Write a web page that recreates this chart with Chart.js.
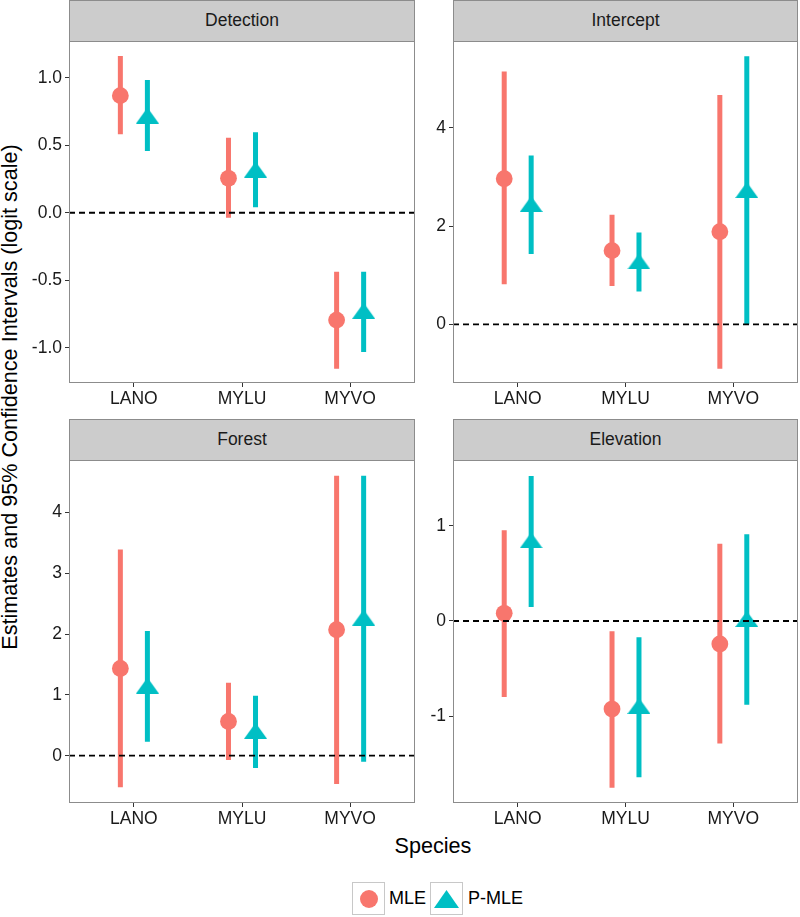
<!DOCTYPE html>
<html>
<head>
<meta charset="utf-8">
<script src="https://cdn.jsdelivr.net/npm/chart.js@4.4.1/dist/chart.umd.min.js"></script>
<style>
    body { margin: 0; background: #fff; font-family: "Liberation Sans", Arial, sans-serif; }
    #wrap { position: relative; width: 800px; height: 917px; overflow: hidden; background: #fff; }
    #wrap canvas { position: absolute; }
    .strip {
        position: absolute; box-sizing: border-box; background: #cccccc;
        border: 1px solid #8c8c8c; color: #1a1a1a; font-size: 17.5px;
        text-align: center; line-height: 39px;
    }
    .title { position: absolute; color: #000; font-size: 21.6px; text-align: center; line-height: 26px; }
    #ytitle { left: -290px; top: 384px; width: 600px; transform: rotate(-90deg); }
    #xtitle { left: 0; top: 833px; width: 866px; }
    .key {
        position: absolute; top: 882px; width: 33px; height: 33px; box-sizing: border-box;
        border: 1px solid #c8c8c8; background: #fff;
    }
    .key .dot { position: absolute; left: 7px; top: 7px; width: 18px; height: 18px; border-radius: 50%; background: #F8766D; }
    .key .tri { position: absolute; left: 3px; top: 7px; width: 25px; height: 18px; background: #00BFC4; clip-path: polygon(50% 0, 100% 100%, 0 100%); }
    .keylabel { position: absolute; top: 887px; font-size: 18px; line-height: 22px; color: #000; }
</style>
</head>
<body>
<div id="wrap">
    <div class="title" id="ytitle">Estimates and 95% Confidence Intervals (logit scale)</div>
    <div class="title" id="xtitle">Species</div>
    <div class="key" style="left:352px"><div class="dot"></div></div>
    <div class="keylabel" style="left:389px">MLE</div>
    <div class="key" style="left:430px"><div class="tri"></div></div>
    <div class="keylabel" style="left:468px">P-MLE</div>
</div>
<script>
const species = ['LANO', 'MYLU', 'MYVO'];
const panelNames = ['Detection', 'Intercept', 'Forest', 'Elevation'];

// one row per panel, one value per species
const mleEst  = [[0.867, 0.255, -0.795], [2.965, 1.50, 1.886], [1.434, 0.563, 2.07], [0.081, -0.926, -0.242]];
const mleLow  = [[0.581, -0.037, -1.156], [0.815, 0.78, -0.904], [-0.52, -0.07, -0.465], [-0.80, -1.753, -1.289]];
const mleHigh = [[1.161, 0.556, -0.437], [5.15, 2.23, 4.67], [3.39, 1.20, 4.60], [0.953, -0.108, 0.812]];

const pmleEst  = [[0.72, 0.32, -0.726], [2.45, 1.28, 2.735], [1.154, 0.41, 2.27], [0.848, -0.893, 0.021]];
const pmleLow  = [[0.457, 0.04, -1.032], [1.43, 0.67, 0.0], [0.23, -0.20, -0.10], [0.147, -1.642, -0.882]];
const pmleHigh = [[0.983, 0.596, -0.437], [3.44, 1.87, 5.46], [2.05, 0.985, 4.60], [1.526, -0.171, 0.911]];

// y tick values and labels per panel
const yTickValues = [[-1, -0.5, 0, 0.5, 1], [0, 2, 4], [0, 1, 2, 3, 4], [-1, 0, 1]];
const yTickLabels = [['-1.0', '-0.5', '0.0', '0.5', '1.0'], ['0', '2', '4'], ['0', '1', '2', '3', '4'], ['-1', '0', '1']];

// axis limits per panel
const yLimits = [[-1.261, 1.272], [-1.195, 5.77], [-0.777, 4.86], [-1.914, 1.693]];

// plot area of each panel on the page: left, top, width, height
const panelBoxes = [[69, 41, 346, 342], [453, 41, 345, 342], [69, 460, 346, 343], [453, 460, 345, 343]];

const red = '#F8766D';
const teal = '#00BFC4';
const dodge = 0.125;

function makeTriangle() {
    const c = document.createElement('canvas');
    c.width = 23;
    c.height = 16;
    const ctx = c.getContext('2d');
    ctx.fillStyle = teal;
    ctx.beginPath();
    ctx.moveTo(11.5, 0);
    ctx.lineTo(23, 16);
    ctx.lineTo(0, 16);
    ctx.closePath();
    ctx.fill();
    return c;
}
const triangle = makeTriangle();

function pointData(est, off) {
    return est.map((v, i) => ({ x: i + 1 + off, y: v }));
}

function barData(low, high, off) {
    const out = [];
    low.forEach((v, i) => {
        out.push({ x: i + 1 + off, y: v });
        out.push({ x: i + 1 + off, y: high[i] });
        out.push({ x: i + 1 + off, y: null });
    });
    return out;
}

const panelBorder = {
    id: 'panelBorder',
    afterDraw(chart) {
        const a = chart.chartArea;
        const ctx = chart.ctx;
        ctx.save();
        ctx.strokeStyle = '#8c8c8c';
        ctx.lineWidth = 1;
        ctx.strokeRect(a.left + 0.5, a.top + 0.5, a.right - a.left - 1, a.bottom - a.top - 1);
        ctx.restore();
    }
};

function drawPanel(p) {
    const [L, T, W, H] = panelBoxes[p];
    const wrap = document.getElementById('wrap');

    const strip = document.createElement('div');
    strip.className = 'strip';
    strip.style.left = L + 'px';
    strip.style.top = (T - 41) + 'px';
    strip.style.width = W + 'px';
    strip.style.height = '42px';
    strip.textContent = panelNames[p];
    wrap.appendChild(strip);

    const canvas = document.createElement('canvas');
    canvas.width = W + 55;
    canvas.height = H + 35;
    canvas.style.left = (L - 50) + 'px';
    canvas.style.top = (T - 5) + 'px';
    wrap.appendChild(canvas);

    new Chart(canvas.getContext('2d'), {
        type: 'line',
        data: {
            datasets: [
                {
                    // reference line at zero
                    data: [{ x: 0.4, y: 0 }, { x: 3.6, y: 0 }],
                    borderColor: '#000',
                    borderWidth: 1.8,
                    borderDash: [6, 4],
                    pointRadius: 0
                },
                {
                    data: pointData(mleEst[p], -dodge),
                    showLine: false,
                    pointStyle: 'circle',
                    pointRadius: 8.4,
                    pointBackgroundColor: red,
                    pointBorderWidth: 0
                },
                {
                    data: pointData(pmleEst[p], dodge),
                    showLine: false,
                    pointStyle: triangle,
                    pointRadius: 8
                },
                {
                    data: barData(mleLow[p], mleHigh[p], -dodge),
                    borderColor: red,
                    borderWidth: 5,
                    borderCapStyle: 'butt',
                    pointRadius: 0,
                    spanGaps: false
                },
                {
                    data: barData(pmleLow[p], pmleHigh[p], dodge),
                    borderColor: teal,
                    borderWidth: 5,
                    borderCapStyle: 'butt',
                    pointRadius: 0,
                    spanGaps: false
                }
            ]
        },
        options: {
            responsive: false,
            animation: false,
            devicePixelRatio: 1,
            layout: { autoPadding: false, padding: { left: 0, right: 5, top: 5, bottom: 0 } },
            plugins: { legend: { display: false }, tooltip: { enabled: false } },
            scales: {
                x: {
                    type: 'linear',
                    min: 0.4,
                    max: 3.6,
                    afterBuildTicks: (scale) => { scale.ticks = [1, 2, 3].map(v => ({ value: v })); },
                    afterFit: (scale) => {
                        scale.height = 30;
                        scale.paddingLeft = 0;
                        scale.paddingRight = 0;
                    },
                    ticks: {
                        callback: (v, i) => species[i],
                        color: '#1a1a1a',
                        font: { family: 'Liberation Sans', size: 17.5 },
                        padding: 2,
                        maxRotation: 0,
                        autoSkip: false
                    },
                    grid: { drawOnChartArea: false, drawTicks: true, tickLength: 4, tickColor: '#333', tickWidth: 1 },
                    border: { display: false }
                },
                y: {
                    min: yLimits[p][0],
                    max: yLimits[p][1],
                    afterBuildTicks: (scale) => { scale.ticks = yTickValues[p].map(v => ({ value: v })); },
                    afterFit: (scale) => {
                        scale.width = 50;
                        scale.paddingTop = 0;
                        scale.paddingBottom = 0;
                    },
                    ticks: {
                        callback: (v, i) => yTickLabels[p][i],
                        color: '#1a1a1a',
                        font: { family: 'Liberation Sans', size: 17.5 },
                        padding: 3,
                        autoSkip: false
                    },
                    grid: { drawOnChartArea: false, drawTicks: true, tickLength: 4, tickColor: '#333', tickWidth: 1 },
                    border: { display: false }
                }
            }
        },
        plugins: [panelBorder]
    });
}

panelNames.forEach((name, p) => drawPanel(p));
</script>
</body>
</html>
